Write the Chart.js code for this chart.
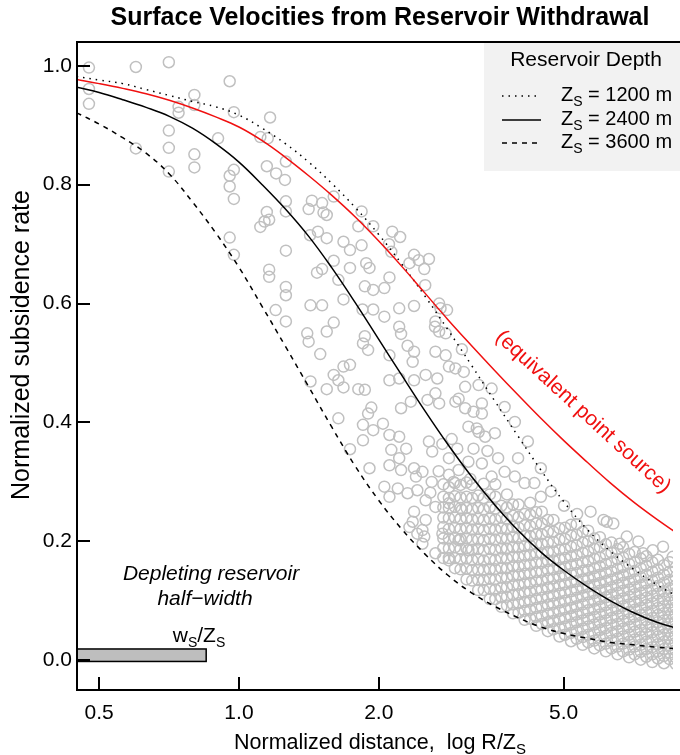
<!DOCTYPE html>
<html>
<head>
<meta charset="utf-8">
<title>Surface Velocities from Reservoir Withdrawal</title>
<script src="https://cdn.jsdelivr.net/npm/chart.js@4.4.1/dist/chart.umd.min.js"></script>
<style>
  html, body { margin: 0; padding: 0; background: #fff; overflow: hidden; }
</style>
</head>
<body>
<canvas id="chart" width="680" height="755"></canvas>
<script>
// ================================
// DATA
// ================================
const xTicks = [0.5, 1.0, 2.0, 5.0];
const yTicks = [0.0, 0.2, 0.4, 0.6, 0.8, 1.0];

// model curves on a common grid of normalized distance R/Zs
const distGrid    = [0.447, 0.5, 0.562, 0.631, 0.708, 0.794, 0.891, 1.0, 1.122, 1.259, 1.413, 1.585, 1.778, 1.995,
                     2.239, 2.512, 2.818, 3.162, 3.548, 3.981, 4.467, 5.012, 5.623, 6.310, 7.079, 7.943, 8.913];
const zs1200      = [0.982, 0.976, 0.970, 0.960, 0.950, 0.940, 0.931, 0.917, 0.895, 0.869, 0.838, 0.802, 0.762, 0.717,
                     0.667, 0.613, 0.556, 0.497, 0.437, 0.378, 0.320, 0.266, 0.220, 0.183, 0.153, 0.127, 0.105];
const zs2400      = [0.964, 0.955, 0.943, 0.930, 0.915, 0.895, 0.869, 0.838, 0.800, 0.759, 0.713, 0.660, 0.602, 0.541,
                     0.480, 0.420, 0.363, 0.310, 0.262, 0.219, 0.182, 0.151, 0.124, 0.100, 0.080, 0.064, 0.052];
const zs3600      = [0.921, 0.902, 0.879, 0.853, 0.818, 0.771, 0.719, 0.661, 0.595, 0.528, 0.460, 0.392, 0.327, 0.270,
                     0.221, 0.179, 0.143, 0.114, 0.091, 0.072, 0.056, 0.045, 0.037, 0.030, 0.026, 0.022, 0.019];
const pointSource = [0.977, 0.970, 0.962, 0.953, 0.942, 0.929, 0.914, 0.897, 0.874, 0.846, 0.815, 0.782, 0.746, 0.706,
                     0.663, 0.618, 0.573, 0.530, 0.488, 0.447, 0.407, 0.369, 0.333, 0.298, 0.266, 0.237, 0.210];

// reservoir half-width ws/Zs and the bar's rate span
const halfWidth = 0.85;
const barRate = [-0.002, 0.019];

// observed points, sparse part: [log10(R/Zs), normalized rate]
const obsSparse = [
  [-0.323,0.997],[-0.323,0.961],[-0.323,0.936],[-0.222,0.998],[-0.222,0.861],[-0.151,1.006],[-0.096,0.951],
  [-0.130,0.931],[-0.130,0.921],[-0.096,0.934],[-0.151,0.891],[-0.151,0.862],[-0.151,0.822],[-0.096,0.851],
  [-0.096,0.829],[-0.045,0.878],[-0.020,0.974],[-0.011,0.922],[-0.011,0.825],[-0.020,0.815],[-0.020,0.797],
  [-0.011,0.776],[-0.020,0.711],[-0.011,0.682],[0.046,0.729],[0.067,0.913],[0.046,0.880],[0.062,0.878],
  [0.101,0.839],[0.060,0.831],[0.080,0.819],[0.099,0.808],[0.101,0.772],[0.101,0.755],[0.157,0.773],
  [0.179,0.769],[0.150,0.759],[0.182,0.753],[0.189,0.749],[0.204,0.780],[0.060,0.754],[0.065,0.741],
  [0.055,0.738],[0.101,0.689],[0.153,0.715],[0.170,0.721],[0.189,0.710],[0.225,0.704],[0.239,0.690],
  [0.264,0.698],[0.264,0.755],[0.257,0.730],[0.289,0.730],[0.330,0.721],[0.347,0.712],[0.323,0.700],
  [0.328,0.687],[0.377,0.682],[0.387,0.673],[0.367,0.668],[0.409,0.675],[0.399,0.658],[0.065,0.657],
  [0.065,0.645],[0.168,0.652],[0.179,0.658],[0.204,0.672],[0.239,0.660],[0.274,0.668],[0.281,0.660],
  [0.324,0.644],[0.214,0.640],[0.101,0.628],[0.101,0.614],[0.271,0.629],[0.289,0.623],[0.313,0.626],
  [0.401,0.631],[0.079,0.589],[0.101,0.570],[0.154,0.597],[0.179,0.597],[0.225,0.607],[0.266,0.590],
  [0.289,0.590],[0.313,0.578],[0.345,0.592],[0.377,0.596],[0.423,0.570],[0.434,0.592],[0.448,0.589],
  [0.147,0.550],[0.150,0.536],[0.189,0.553],[0.204,0.568],[0.271,0.545],[0.267,0.533],[0.278,0.522],
  [0.345,0.561],[0.349,0.549],[0.363,0.529],[0.377,0.519],[0.423,0.519],[0.445,0.513],[0.452,0.494],
  [0.175,0.515],[0.324,0.513],[0.374,0.502],[0.225,0.494],[0.239,0.497],[0.204,0.480],[0.214,0.471],
  [0.154,0.469],[0.189,0.456],[0.225,0.459],[0.257,0.456],[0.271,0.455],[0.324,0.471],[0.345,0.474],
  [0.377,0.471],[0.402,0.480],[0.427,0.474],[0.423,0.449],[0.406,0.438],[0.370,0.435],[0.349,0.424],
  [0.285,0.425],[0.278,0.415],[0.214,0.407],[0.267,0.396],[0.289,0.387],[0.324,0.379],[0.345,0.376],
  [0.466,0.491],[0.484,0.485],[0.487,0.460],[0.473,0.440],[0.487,0.424],[0.505,0.418],[0.523,0.415],
  [0.516,0.463],[0.523,0.432],[0.494,0.393],[0.512,0.390],[0.431,0.553],[0.445,0.550],[0.422,0.561],
  [0.431,0.600],[0.480,0.523],[0.544,0.457],[0.572,0.426],[0.239,0.355],[0.281,0.323],[0.310,0.398],
  [0.267,0.370],[0.328,0.354],[0.360,0.356],[0.345,0.340],[0.324,0.328],[0.349,0.320],[0.377,0.323],
  [0.381,0.309],[0.384,0.286],[0.363,0.281],[0.342,0.289],[0.313,0.292],[0.324,0.275],[0.377,0.250],
  [0.367,0.224],[0.374,0.233],[0.395,0.219],[0.399,0.208],[0.431,0.432],[0.466,0.435],[0.594,0.401],
  [0.622,0.368],[0.601,0.340],[0.650,0.323],[0.516,0.384],[0.530,0.376],[0.551,0.382],[0.438,0.364],
  [0.409,0.368],[0.416,0.351],[0.395,0.317],[0.452,0.340],[0.473,0.320],[0.494,0.334],[0.523,0.331],
  [0.558,0.340],[0.572,0.317],[0.544,0.309],[0.594,0.309],[0.615,0.298],[0.636,0.298],[0.650,0.275],
  [0.672,0.284],[0.785,0.236],[0.806,0.230],[0.835,0.208],[0.891,0.185],[0.913,0.191],[0.870,0.180],
  [0.820,0.196],[0.402,0.269],[0.423,0.258],[0.452,0.264],[0.480,0.253],[0.402,0.236],[0.438,0.213],
  [0.473,0.202],[0.423,0.180],[0.452,0.168],[0.494,0.185],[0.395,0.196],[0.384,0.213],[0.757,0.250],
  [0.792,0.233],[0.934,0.174],[0.458,0.372],[0.470,0.356],[0.505,0.356],[0.535,0.352],[0.415,0.300],
  [0.430,0.318],[0.462,0.300],[0.498,0.305],[0.412,0.282],[0.700,0.260],[0.728,0.246],[0.860,0.200]
];

// observed points, dense band: columns at log10(R/Zs) with their rates
const bandLogR = [0.440, 0.452, 0.465, 0.477, 0.490, 0.502, 0.515, 0.527, 0.540, 0.552, 0.565, 0.577, 0.590, 0.602,
                  0.615, 0.627, 0.640, 0.652, 0.665, 0.677, 0.690, 0.702, 0.715, 0.727, 0.740, 0.752, 0.765, 0.777,
                  0.790, 0.802, 0.815, 0.827, 0.840, 0.852, 0.865, 0.877, 0.890, 0.902, 0.915, 0.927, 0.940];
const bandRate = [
  [0.172, 0.189, 0.205, 0.224, 0.240, 0.257, 0.275, 0.296],
  [0.172, 0.188, 0.205, 0.221, 0.239, 0.256, 0.273, 0.291, 0.312],
  [0.155, 0.172, 0.190, 0.206, 0.223, 0.240, 0.258, 0.276, 0.298],
  [0.153, 0.170, 0.187, 0.204, 0.221, 0.238, 0.256, 0.274, 0.295],
  [0.136, 0.154, 0.171, 0.188, 0.205, 0.222, 0.239, 0.256, 0.275, 0.299],
  [0.134, 0.152, 0.169, 0.186, 0.203, 0.220, 0.237, 0.254, 0.273, 0.295],
  [0.118, 0.135, 0.152, 0.170, 0.187, 0.203, 0.221, 0.238, 0.256, 0.277],
  [0.118, 0.135, 0.152, 0.168, 0.185, 0.202, 0.219, 0.236, 0.254, 0.273, 0.297],
  [0.103, 0.120, 0.137, 0.153, 0.170, 0.187, 0.204, 0.221, 0.238, 0.257, 0.279],
  [0.103, 0.119, 0.136, 0.153, 0.169, 0.186, 0.203, 0.220, 0.237, 0.255, 0.275, 0.296],
  [0.090, 0.106, 0.122, 0.139, 0.155, 0.172, 0.188, 0.205, 0.222, 0.240, 0.260],
  [0.092, 0.107, 0.123, 0.139, 0.155, 0.171, 0.188, 0.205, 0.221, 0.238, 0.257, 0.279],
  [0.079, 0.094, 0.110, 0.126, 0.142, 0.158, 0.174, 0.190, 0.207, 0.224, 0.243, 0.262],
  [0.080, 0.096, 0.111, 0.127, 0.143, 0.158, 0.174, 0.190, 0.206, 0.223, 0.241, 0.262],
  [0.068, 0.083, 0.098, 0.114, 0.129, 0.145, 0.160, 0.176, 0.192, 0.209, 0.227, 0.246],
  [0.070, 0.085, 0.100, 0.115, 0.130, 0.146, 0.161, 0.177, 0.193, 0.209, 0.226, 0.245, 0.265],
  [0.058, 0.073, 0.088, 0.103, 0.118, 0.133, 0.148, 0.164, 0.179, 0.195, 0.212, 0.230, 0.249],
  [0.061, 0.075, 0.090, 0.105, 0.119, 0.134, 0.149, 0.164, 0.180, 0.196, 0.212, 0.230, 0.250],
  [0.049, 0.064, 0.078, 0.093, 0.107, 0.122, 0.137, 0.152, 0.167, 0.182, 0.198, 0.216, 0.236],
  [0.052, 0.066, 0.080, 0.095, 0.109, 0.124, 0.138, 0.153, 0.168, 0.183, 0.199, 0.216, 0.236],
  [0.040, 0.054, 0.069, 0.083, 0.097, 0.112, 0.126, 0.141, 0.155, 0.170, 0.186, 0.203, 0.222],
  [0.043, 0.057, 0.071, 0.086, 0.100, 0.114, 0.128, 0.143, 0.157, 0.172, 0.187, 0.204, 0.223],
  [0.032, 0.046, 0.060, 0.074, 0.088, 0.102, 0.116, 0.131, 0.145, 0.160, 0.175, 0.191, 0.210, 0.228],
  [0.036, 0.050, 0.064, 0.077, 0.091, 0.105, 0.119, 0.133, 0.147, 0.162, 0.177, 0.193, 0.211, 0.229],
  [0.026, 0.039, 0.053, 0.067, 0.080, 0.094, 0.108, 0.122, 0.136, 0.150, 0.165, 0.181, 0.198, 0.216],
  [0.030, 0.043, 0.057, 0.070, 0.084, 0.097, 0.111, 0.124, 0.138, 0.152, 0.167, 0.183, 0.200, 0.218],
  [0.020, 0.033, 0.046, 0.060, 0.073, 0.086, 0.100, 0.113, 0.127, 0.141, 0.155, 0.171, 0.188, 0.205],
  [0.025, 0.038, 0.051, 0.064, 0.077, 0.090, 0.103, 0.117, 0.130, 0.144, 0.158, 0.173, 0.190, 0.207],
  [0.015, 0.028, 0.041, 0.054, 0.067, 0.080, 0.093, 0.106, 0.119, 0.133, 0.147, 0.162, 0.178, 0.195],
  [0.020, 0.033, 0.046, 0.059, 0.071, 0.084, 0.097, 0.110, 0.123, 0.136, 0.150, 0.165, 0.181, 0.198],
  [0.010, 0.023, 0.036, 0.049, 0.061, 0.074, 0.087, 0.100, 0.113, 0.126, 0.139, 0.154, 0.170, 0.187],
  [0.015, 0.028, 0.040, 0.053, 0.066, 0.078, 0.091, 0.104, 0.117, 0.130, 0.143, 0.157, 0.173, 0.190],
  [0.005, 0.018, 0.031, 0.043, 0.056, 0.069, 0.081, 0.094, 0.107, 0.119, 0.132, 0.146, 0.162, 0.179],
  [0.010, 0.023, 0.035, 0.048, 0.060, 0.073, 0.085, 0.098, 0.111, 0.123, 0.136, 0.150, 0.165, 0.182],
  [0.001, 0.014, 0.026, 0.039, 0.051, 0.063, 0.076, 0.088, 0.101, 0.113, 0.126, 0.140, 0.155, 0.171],
  [0.006, 0.019, 0.031, 0.044, 0.056, 0.068, 0.080, 0.093, 0.105, 0.117, 0.130, 0.144, 0.159, 0.175],
  [-0.003, 0.010, 0.022, 0.034, 0.047, 0.059, 0.071, 0.083, 0.096, 0.108, 0.120, 0.134, 0.149, 0.165],
  [0.003, 0.015, 0.027, 0.040, 0.052, 0.064, 0.076, 0.088, 0.100, 0.112, 0.125, 0.139, 0.153, 0.169],
  [-0.005, 0.007, 0.019, 0.031, 0.043, 0.055, 0.067, 0.079, 0.091, 0.103, 0.116, 0.130, 0.144, 0.160],
  [0.002, 0.013, 0.025, 0.037, 0.049, 0.061, 0.073, 0.085, 0.097, 0.109, 0.121, 0.135, 0.149, 0.165],
  [-0.006, 0.005, 0.017, 0.029, 0.041, 0.053, 0.065, 0.077, 0.089, 0.101, 0.113, 0.126, 0.140, 0.156]
];

// ================================
// BUILD DATASETS
// ================================
const FONT = '"Liberation Sans", Arial, Helvetica, sans-serif';
const RED = '#f01010';

const obsPoints = obsSparse.map(([lr, v]) => ({ x: Math.pow(10, lr), y: v }));
bandLogR.forEach((lr, i) => {
  bandRate[i].forEach(v => obsPoints.push({ x: Math.pow(10, lr), y: v }));
});

function curve(vals) {
  return distGrid.map((d, i) => ({ x: d, y: vals[i] }));
}

function lineSet(label, vals, color, dash, order) {
  return {
    label: label,
    data: curve(vals),
    showLine: true,
    borderColor: color,
    borderWidth: 1.5,
    borderDash: dash,
    pointRadius: 0,
    tension: 0.4,
    fill: false,
    order: order
  };
}

// draw a run of text pieces, some as subscripts
function drawParts(ctx, parts, x, yMid, size, align, style) {
  const big = (style || '') + ' ' + size + 'px ' + FONT;
  const small = (style || '') + ' ' + Math.round(size * 0.68) + 'px ' + FONT;
  let w = 0;
  parts.forEach(([t, sub]) => { ctx.font = sub ? small : big; w += ctx.measureText(t).width; });
  let cx = align === 'center' ? x - w / 2 : x;
  const base = yMid + size * 0.36;
  ctx.textAlign = 'left';
  ctx.textBaseline = 'alphabetic';
  parts.forEach(([t, sub]) => {
    ctx.font = sub ? small : big;
    ctx.fillText(t, cx, sub ? base + size * 0.25 : base);
    cx += ctx.measureText(t).width;
  });
}

// ================================
// DECORATION PLUGIN
// ================================
const decor = {
  id: 'decor',
  afterDatasetsDraw(chart) {
    const { ctx, chartArea: ca, scales: { x, y } } = chart;
    ctx.save();
    ctx.fillStyle = '#000';
    ctx.strokeStyle = '#000';

    // reservoir half-width bar
    const bx0 = ca.left, bx1 = x.getPixelForValue(halfWidth);
    const byTop = y.getPixelForValue(barRate[1]), byBot = y.getPixelForValue(barRate[0]);
    ctx.fillStyle = '#bebebe';
    ctx.fillRect(bx0, byTop, bx1 - bx0, byBot - byTop);
    ctx.lineWidth = 1.5;
    ctx.strokeRect(bx0, byTop, bx1 - bx0, byBot - byTop);

    // frame (right side runs past the window)
    ctx.lineWidth = 2;
    ctx.beginPath();
    ctx.moveTo(chart.width + 5, ca.top);
    ctx.lineTo(ca.left, ca.top);
    ctx.lineTo(ca.left, ca.bottom);
    ctx.lineTo(chart.width + 5, ca.bottom);
    ctx.stroke();

    // inward ticks
    ctx.beginPath();
    xTicks.forEach(v => {
      const px = Math.round(x.getPixelForValue(v));
      ctx.moveTo(px, ca.bottom);
      ctx.lineTo(px, ca.bottom - 13);
    });
    yTicks.forEach(v => {
      const py = Math.round(y.getPixelForValue(v));
      ctx.moveTo(ca.left, py);
      ctx.lineTo(ca.left + 13, py);
    });
    ctx.stroke();

    // legend
    ctx.fillStyle = '#f2f2f2';
    ctx.fillRect(484, ca.top + 1, chart.width - 484, 128);
    ctx.fillStyle = '#000';
    ctx.font = '21px ' + FONT;
    ctx.textAlign = 'center';
    ctx.textBaseline = 'middle';
    ctx.fillText('Reservoir Depth', 586, 60);
    const legendRows = [
      ['1200', [1.5, 5], 96],
      ['2400', [], 120],
      ['3600', [5, 5], 143]
    ];
    legendRows.forEach(([depth, dash, ly]) => {
      ctx.setLineDash(dash);
      ctx.lineWidth = 1.3;
      ctx.beginPath();
      ctx.moveTo(502, ly);
      ctx.lineTo(541, ly);
      ctx.stroke();
      ctx.setLineDash([]);
      drawParts(ctx, [['Z', false], ['S', true], [' = ' + depth + ' m', false]], 561, ly - 2, 20, 'left');
    });

    // reservoir annotation
    ctx.font = 'italic 21px ' + FONT;
    ctx.textAlign = 'center';
    ctx.textBaseline = 'middle';
    ctx.fillText('Depleting reservoir', 211, 574);
    ctx.fillText('half\u2212width', 205, 599);
    drawParts(ctx, [['w', false], ['S', true], ['/Z', false], ['S', true]], 199, 634, 21, 'center');

    // point-source label
    ctx.save();
    ctx.translate(583, 412);
    ctx.rotate(42.6 * Math.PI / 180);
    ctx.fillStyle = RED;
    ctx.font = '21px ' + FONT;
    ctx.textAlign = 'center';
    ctx.textBaseline = 'middle';
    ctx.fillText('(equivalent point source)', 0, 0);
    ctx.restore();

    // titles
    ctx.font = 'bold 25px ' + FONT;
    ctx.textAlign = 'center';
    ctx.textBaseline = 'middle';
    ctx.fillText('Surface Velocities from Reservoir Withdrawal', 380, 18);

    drawParts(ctx, [['Normalized distance,  log R/Z', false], ['S', true]], 380, 741, 21.5, 'center');

    ctx.save();
    ctx.translate(22, 345);
    ctx.rotate(-Math.PI / 2);
    ctx.font = '25px ' + FONT;
    ctx.textAlign = 'center';
    ctx.textBaseline = 'middle';
    ctx.fillText('Normalized subsidence rate', 0, 0);
    ctx.restore();

    ctx.restore();
  }
};

// ================================
// CHART
// ================================
const ctx = document.getElementById('chart');

new Chart(ctx, {
  type: 'scatter',
  data: {
    datasets: [
      lineSet('Point source', pointSource, RED, [], 1),
      lineSet('Zs = 1200 m', zs1200, '#000', [1.5, 5], 2),
      lineSet('Zs = 2400 m', zs2400, '#000', [], 3),
      lineSet('Zs = 3600 m', zs3600, '#000', [5, 5], 4),
      {
        label: 'Observed',
        data: obsPoints,
        pointRadius: 5.5,
        pointBorderWidth: 1.5,
        pointBorderColor: 'rgb(192,192,192)',
        pointBackgroundColor: 'rgba(0,0,0,0)',
        showLine: false,
        order: 10
      }
    ]
  },
  options: {
    responsive: false,
    animation: false,
    events: [],
    layout: { padding: { top: 42, right: 0, left: 0, bottom: 0 } },
    plugins: {
      legend: { display: false },
      tooltip: { enabled: false },
      title: { display: false }
    },
    scales: {
      x: {
        type: 'logarithmic',
        min: 0.448,
        max: 8.6,
        grid: { display: false, drawTicks: false, tickLength: 0 },
        border: { display: false },
        afterBuildTicks: s => { s.ticks = xTicks.map(v => ({ value: v })); },
        afterFit: s => { s.height = 65; },
        ticks: {
          autoSkip: false,
          maxRotation: 0,
          padding: 11,
          color: '#000',
          font: { family: FONT, size: 21 },
          callback: v => Number(v).toFixed(1)
        }
      },
      y: {
        type: 'linear',
        min: -0.05,
        max: 1.04,
        grid: { display: false, drawTicks: false, tickLength: 0 },
        border: { display: false },
        afterBuildTicks: s => { s.ticks = yTicks.map(v => ({ value: v })); },
        afterFit: s => { s.width = 77; },
        ticks: {
          padding: 5,
          color: '#000',
          font: { family: FONT, size: 21 },
          callback: v => Number(v).toFixed(1)
        }
      }
    }
  },
  plugins: [decor]
});
</script>
</body>
</html>
